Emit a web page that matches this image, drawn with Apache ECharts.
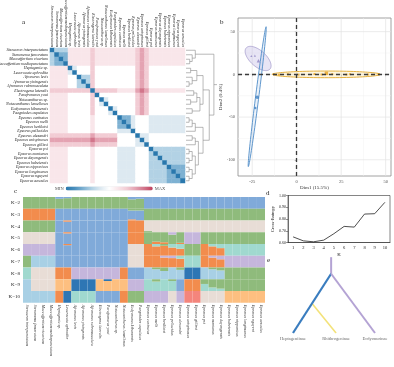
<!DOCTYPE html>
<html><head><meta charset="utf-8">
<script src="https://cdn.jsdelivr.net/npm/echarts@6/dist/echarts.min.js"></script>
<style>html,body{margin:0;padding:0;background:#fff}#c{width:394px;height:367px}</style>
</head><body><div id="c"></div>
<script>
// ---------- DATA ----------
const species = ["Stenacron interpunctatum","Stenonema femoratum","Maccaffertium vicarium","Maccaffertium mediopunctatum","Heptagenia sp.","Leucrocuta aphrodite","Afronurus levis","Afronurus yixingensis","Afronurus rubromaculata","Electrogena lateralis","Parafronurus youi","Notacanthurus sp.","Notacanthurus lamellosus","Ecdyonurus kibunensis","Paegniodes cupulatus","Epeorus carinatus","Epeorus melli","Epeorus herklotsi","Epeorus pellucidus","Epeorus alexandri","Epeorus unispinosus","Epeorus gilliesi","Epeorus psi","Epeorus montanus","Epeorus dayongensis","Epeorus hubeiensis","Epeorus nipponicus","Epeorus longimanus","Epeorus nguyeni","Epeorus aesculus"];
// heatmap matrix, 0 = MIN (blue) ... 5 = white ... 10 = MAX (red)
const heatRows = [
"033366666766666666678766666666",
"302266666766666666678766666666",
"320266666766666666678766666666",
"322066666766666666678766666666",
"666604555755555555578755555555",
"666640555755555555578755555555",
"666655033755555555578755555555",
"666655303755555555578755555555",
"666655330755555555578755555555",
"777777777077777666689866666666",
"666655555705555555578755555555",
"666655555750455555578755555555",
"666655555754055555578755555555",
"666655555755504555578755555555",
"666655555755540555578755555555",
"666655555655555022455544444444",
"666655555655555202455544444444",
"666655555655555220455544444444",
"666655555655555444055544444444",
"777777777877777555504455555555",
"888888888988888555540455555555",
"777777777877777555544055555555",
"666655555655555444455503333333",
"666655555655555444455530333333",
"666655555655555444455533033333",
"666655555655555444455533303333",
"666655555655555444455533330222",
"666655555655555444455533332022",
"666655555655555444455533332202",
"666655555655555444455533332220"];
// dendrogram merges: [childA, childB, height]; leaves 0..29, internal nodes 30+
const dendroMerges = [[2,3,1.2],[1,30,2],[0,31,3],[4,5,1.5],[7,8,1],[6,34,2],[33,35,3.5],[9,10,2.5],[11,12,1.5],[37,38,3.5],[13,14,2],[39,40,4.5],[36,41,5.5],[15,16,1],[43,17,2],[44,18,3],[19,20,2],[46,21,3],[22,23,1],[24,25,1],[48,49,2],[26,27,1],[28,29,1],[51,52,2],[50,53,3],[47,54,4],[45,55,5.5],[42,56,7.5],[32,57,9]];
// PCA
const pcaXTicks = [-25,0,25,50];
const pcaYTicks = [-100,-50,0,50];
const pcaXMinor = [-12.5,12.5,37.5];
const pcaYMinor = [-75,-25,25];
const pcaHept = [[-22.2,-26.7],[-23.3,-39.5]];
const pcaEcdy = [[-25.5,21.5],[-23.5,22],[-21.5,16]];
const pcaRhith = [[-13,0.3],[-10,-0.4],[-5,0.2],[1,-0.3],[10,0.4],[14,-0.2],[16.7,1.2],[20,0.3],[28,-0.3],[30,0.2],[40,-0.2],[46,0.1]];
// ellipse: [cx, cy, ax, ay, bx, by]
const ellHept = [-22.2,-26.1,5,81.9,0.9,-0.22];
const ellEcdy = [-21.7,18.6,6.67,-12.4,-2.95,-6.98];
const ellRhith = [16.7,0,30.3,0,0,3.9];
// admixture (dominant cluster letter, or "letter fraction" mixes)
const kNames = ["K=2","K=3","K=4","K=5","K=6","K=7","K=8","K=9","K=10"];
const kOrders = ["GB","OBG","GBOE","EBOGL","LBEOTG","GSBEOTL","TEOLBSDG","SEPDLTBOG","SODTBGLERP"];
const k2 = ["G","G","G","G","G.85 B.15","G.9 B.1","G","G","G","G","G","G","G","G.8 B.2","G.85 B.15","B","B","B","B","B","B","B","B","B","B","B","B","B","B","B"];
const k3 = ["O","O","O","O","B","B","B","B","B","B","B","B","B","B.75 O.1 G.15","B.85 G.15","G","G","G","G","G","G","G","G","G","G","G","G","G","G","G"];
const k4 = ["G","G","G","G","B","B.9 O.1","B","B","B","B","B","B","B","O","O","E.9 G.1","E","E","E","E","E","E","E","E","E","E","E","E","E","E"];
const k5 = ["E","E","E","E","B","B.9 O.1","B","B","B","B","B","B","B","O","O","G","G.8 O.2","G.85 O.15","G.8 L.2","G.9 O.1","L","L","G","G","G","G","G","G","G","G"];
const k6 = ["L","L","L","L","B","B.9 O.1","B","B","B","B","B","B","B","E","E","O","O.8 T.2","O.85 G.15","O.7 T.3","O.6 T.4","G","G","O","O.8 T.2","O.65 T.35","T","T","T","T","T"];
const k7 = ["G","S","S","S","B","B","B","B","B","B","B","B","B","E","E","O","O","O.85 L.15","O.8 L.2","O.75 T.25","T","T","O","O.85 L.15","O.7 L.3","L","L","L","L","L"];
const k8 = ["T","E","E","E","O","O","L","L","L","L","L","L","O","B","B","S","S.85 G.15","S.7 G.3","S","S.8 G.2","D","D","S","S.85 G.15","S.75 G.25","G","G","G","G","G"];
const k9 = ["S","E","E","E","P","P","D","D","D","P","P.85 D.15","P","P","L","L","T","T.8 G.2","T","T.85 G.15","B","O","O","T.6 G.4","G.7 T.3","G.8 T.2","G","G","G","G","G"];
const k10 = ["S","S","S","S","O","D","T","T","T","B","B","B","O","G","G","L","L","L","E","L","R","R","E","E","E","P","P","P","P","P"];
// cross-entropy
const ceK = ["1","2","3","4","5","6","7","8","9","10"];
const ceVal = [0.648,0.614,0.606,0.620,0.675,0.737,0.731,0.842,0.845,0.942];
// subfamily tree
const eNames = ["top","root","n1","Heptageniinae","Rhithrogeninae","Ecdyonurinae"];
const ePos = [0.93,0.93,0.465,0,1.05,2];
const eDepth = [-0.28,0,0.5,1,1,1];
const eBranches = [["top","root"],["root","Heptageniinae"],["n1","Rhithrogeninae"],["root","Ecdyonurinae"]];

// ---------- STYLE ----------
const FONT = "'Liberation Serif','DejaVu Serif',serif";
const pal = {G:'#8fbb7c',B:'#80aad9',O:'#f28c4d',E:'#e8ddd6',L:'#c5b6dc',T:'#a0d9cf',S:'#a8d0e5',D:'#2e76b4',P:'#fdbf80',R:'#f4857c'};
const heatColors = ['#2a78ad','#4a8fbe','#7eb1d2','#b3d2e5','#dde9f1','#ffffff','#f9e6ea','#f2ccd4','#e4a3b2','#d2768b','#c2405c'];
const branchStyle = {"top|root":['#b4a3d4',2],"root|Heptageniinae":['#3a7dbf',2.2],"n1|Rhithrogeninae":['#f3e27a',1.6],"root|Ecdyonurinae":['#b4a3d4',2]};

const grids=[], xAxes=[], yAxes=[], series=[];
function addGrid(g, xa, ya){ g.outerBoundsMode='none'; g.containLabel=false; grids.push(g); const i=grids.length-1; xa.gridIndex=i; ya.gridIndex=i; xAxes.push(xa); yAxes.push(ya); return i; }
const hidden = {show:false};

// ----- a: heatmap -----
const hm = addGrid({left:50, top:48, width:135, height:135},
  {type:'category', data:species, position:'top', axisLine:hidden, axisTick:hidden, splitLine:hidden,
   axisLabel:{interval:0, rotate:90, fontSize:4, fontStyle:'italic', fontFamily:FONT, color:'#222', margin:1}},
  {type:'category', data:species, inverse:true, axisLine:hidden, axisTick:hidden, splitLine:hidden,
   axisLabel:{interval:0, fontSize:4, fontStyle:'italic', fontFamily:FONT, color:'#222', margin:2}});
const hmData=[];
heatRows.forEach((r,i)=>{ for(let j=0;j<r.length;j++) hmData.push([j,i,+r[j]]); });
series.push({type:'heatmap', xAxisIndex:hm, yAxisIndex:hm, data:hmData, itemStyle:{borderWidth:0}});

// dendrogram
const dg = addGrid({left:186, top:48, width:31, height:135},
  {type:'value', min:0, max:10, show:false}, {type:'value', min:0, max:30, inverse:true, show:false});
const nodeY = species.map((s,i)=>i+0.5), nodeH = species.map(()=>0);
const dLines = [];
dendroMerges.forEach(m=>{
  const [a,b,h]=m; const ya=nodeY[a], yb=nodeY[b];
  dLines.push({coords:[[nodeH[a],ya],[h,ya],[h,yb],[nodeH[b],yb]]});
  nodeY.push((ya+yb)/2); nodeH.push(h);
});
const rootI = nodeY.length-1;
dLines.push({coords:[[nodeH[rootI],nodeY[rootI]],[10,nodeY[rootI]]]});
series.push({type:'lines', coordinateSystem:'cartesian2d', xAxisIndex:dg, yAxisIndex:dg, polyline:true, data:dLines, lineStyle:{color:'#8a8a8a', width:0.6, opacity:1}, silent:true});

// ----- b: PCA -----
const pc = addGrid({left:238, top:18, width:153, height:158, show:true, borderColor:'#8c8c8c', borderWidth:0.8},
  {type:'value', min:-33, max:53, splitLine:hidden, axisLine:hidden,
   axisTick:{show:true, length:2, customValues:pcaXTicks, lineStyle:{color:'#666', width:0.5}},
   axisLabel:{customValues:pcaXTicks, fontSize:4.5, color:'#555', fontFamily:FONT, margin:3},
   name:'Dim1 (15.5%)', nameLocation:'middle', nameGap:9, nameTextStyle:{fontSize:5, fontFamily:FONT, color:'#333'}},
  {type:'value', min:-119, max:66, splitLine:hidden, axisLine:hidden,
   axisTick:{show:true, length:2, customValues:pcaYTicks, lineStyle:{color:'#666', width:0.5}},
   axisLabel:{customValues:pcaYTicks, fontSize:4.5, color:'#555', fontFamily:FONT, margin:3},
   name:'Dim2 (9.4%)', nameLocation:'middle', nameGap:12, nameTextStyle:{fontSize:5, fontFamily:FONT, color:'#333'}});
// background grid lines as custom series
series.push({type:'custom', xAxisIndex:pc, yAxisIndex:pc, data:[0], z:1, silent:true,
  renderItem:(p,api)=>{
    const ch=[];
    const addV=(v,c,w)=>{const a=api.coord([v,-119]), b=api.coord([v,66]); ch.push({type:'line', shape:{x1:a[0],y1:a[1],x2:b[0],y2:b[1]}, style:{stroke:c, lineWidth:w}});};
    const addH=(v,c,w)=>{const a=api.coord([-33,v]), b=api.coord([53,v]); ch.push({type:'line', shape:{x1:a[0],y1:a[1],x2:b[0],y2:b[1]}, style:{stroke:c, lineWidth:w}});};
    pcaXMinor.forEach(v=>addV(v,'#f0f0f0',0.5)); pcaYMinor.forEach(v=>addH(v,'#f0f0f0',0.5));
    pcaXTicks.forEach(v=>addV(v,'#e2e2e2',0.7)); pcaYTicks.forEach(v=>addH(v,'#e2e2e2',0.7));
    return {type:'group', children:ch};
  }});
function ellipsePts(e){ const pts=[]; for(let k=0;k<=90;k++){ const t=k/90*2*Math.PI; pts.push([e[0]+Math.cos(t)*e[2]+Math.sin(t)*e[4], e[1]+Math.cos(t)*e[3]+Math.sin(t)*e[5]]);} return pts; }
function ellSeries(e, fill, stroke, lw){
  const pts = ellipsePts(e);
  return {type:'custom', xAxisIndex:pc, yAxisIndex:pc, data:[0], z:2, silent:true,
    renderItem:(p,api)=>({type:'polygon', shape:{points:pts.map(q=>api.coord(q))}, style:{fill:fill, stroke:stroke, lineWidth:lw}})};
}
series.push(ellSeries(ellRhith,'rgba(245,210,110,0.22)','#e4aa2c',0.9));
series.push(ellSeries(ellEcdy,'rgba(190,180,225,0.35)','#9d93c9',0.7));
series.push(ellSeries(ellHept,'rgba(120,170,220,0.15)','#4f8cc7',0.9));
series.push({type:'scatter', xAxisIndex:pc, yAxisIndex:pc, data:pcaRhith, symbol:'rect', symbolSize:(v,p)=>p.dataIndex===6?3.5:2, itemStyle:{color:'#e6a11e'}, z:3});
series.push({type:'scatter', xAxisIndex:pc, yAxisIndex:pc, data:pcaEcdy, symbol:'triangle', symbolSize:(v,p)=>p.dataIndex===2?3.5:2.2, itemStyle:{color:'#8f84c2'}, z:3});
series.push({type:'scatter', xAxisIndex:pc, yAxisIndex:pc, data:pcaHept, symbol:'circle', symbolSize:(v,p)=>p.dataIndex===0?3.5:2.5, itemStyle:{color:'#3f7fc0'}, z:3});
series.push({type:'scatter', xAxisIndex:pc, yAxisIndex:pc, data:pcaHept, symbolSize:0, z:4, silent:true,
  markLine:{silent:true, symbol:['none','none'], label:{show:false}, animation:false,
   lineStyle:{color:'#3a3a3a', width:1.3, type:[4,3]}, data:[{xAxis:0},{yAxis:0}]}});

// ----- c: admixture -----
const kArrays = [k2,k3,k4,k5,k6,k7,k8,k9,k10];
const rowH = 11.75;
kArrays.forEach((arr, idx)=>{
  const last = idx===kArrays.length-1;
  const gi = addGrid({left:23, top:197+idx*rowH, width:242, height:rowH},
    {type:'category', data:species, boundaryGap:true, axisLine:hidden, axisTick:hidden, splitLine:hidden,
     axisLabel: last ? {interval:0, rotate:-90, fontSize:4, fontStyle:'italic', fontFamily:FONT, color:'#333', margin:2} : {show:false}},
    {type:'value', min:0, max:1, axisLine:hidden, axisTick:hidden, splitLine:hidden, axisLabel:{show:false},
     name:kNames[idx], nameLocation:'middle', nameRotate:0, nameGap:3, nameTextStyle:{fontSize:5, fontFamily:FONT, color:'#222', align:'right'}});
  const parsed = arr.map(s=>{ const o={}; s.split(' ').forEach(tok=>{ o[tok[0]] = tok.length>1 ? parseFloat(tok.slice(1)) : 1; }); return o; });
  kOrders[idx].split('').forEach(letter=>{
    series.push({type:'bar', xAxisIndex:gi, yAxisIndex:gi, stack:'k'+idx, barCategoryGap:'0%', barGap:'0%',
      data: parsed.map(o=>o[letter]||0), itemStyle:{color:pal[letter]}, silent:true});
  });
});

// ----- d: cross-entropy -----
const cg = addGrid({left:288, top:195.5, width:102, height:47, show:true, borderColor:'#333', borderWidth:0.6},
  {type:'category', data:ceK, boundaryGap:true, axisLine:{lineStyle:{color:'#333',width:0.6}}, axisTick:{alignWithLabel:true, length:2, lineStyle:{color:'#333',width:0.5}},
   axisLabel:{fontSize:4.5, fontFamily:FONT, color:'#222', margin:3}, splitLine:hidden,
   name:'K', nameLocation:'middle', nameGap:10, nameTextStyle:{fontSize:5, fontFamily:FONT, color:'#222'}},
  {type:'value', min:0.6, max:1.0, interval:0.1, axisLine:{show:true, lineStyle:{color:'#333',width:0.6}}, axisTick:{show:true, length:2, lineStyle:{color:'#333',width:0.5}},
   axisLabel:{fontSize:4, fontFamily:FONT, color:'#222', margin:2, formatter:v=>v.toFixed(2)}, splitLine:hidden,
   name:'Cross-Entropy', nameLocation:'middle', nameGap:13, nameTextStyle:{fontSize:4.5, fontFamily:FONT, color:'#222'}});
series.push({type:'line', xAxisIndex:cg, yAxisIndex:cg, data:ceVal, symbol:'none', lineStyle:{color:'#222', width:0.8}});

// ----- e: subfamily tree -----
const eg = addGrid({left:293, top:256, width:82, height:77},
  {type:'value', min:0, max:2, show:false}, {type:'value', min:-0.3, max:1, inverse:true, show:false});
const eIdx = n=>eNames.indexOf(n);
eBranches.forEach(b=>{
  const st = branchStyle[b[0]+'|'+b[1]];
  series.push({type:'line', xAxisIndex:eg, yAxisIndex:eg, data:b.map(n=>[ePos[eIdx(n)], eDepth[eIdx(n)]]),
    symbol:'none', lineStyle:{color:st[0], width:st[1]}, z:b[0]==='n1'?2:3, silent:true});
});
series.push({type:'scatter', xAxisIndex:eg, yAxisIndex:eg, symbolSize:0,
  data:eNames.slice(3).map(n=>({name:n, value:[ePos[eIdx(n)], eDepth[eIdx(n)]]})),
  label:{show:true, position:'bottom', distance:3, formatter:'{b}', fontSize:4.5, fontFamily:FONT, color:'#444'}});

// ----- panel letters -----
const letter = (t,x,y)=>({type:'text', left:x, top:y, style:{text:t, font:'7px '+FONT, fill:'#222'}});

const chart = echarts.init(document.getElementById('c'));
chart.setOption({
  animation:false,
  backgroundColor:'#fff',
  grid:grids, xAxis:xAxes, yAxis:yAxes, series:series,
  visualMap:{type:'continuous', min:0, max:10, seriesIndex:0, orient:'horizontal', left:55, top:186, padding:0,
    itemWidth:4, itemHeight:87, text:['MAX','MIN'], textGap:2, calculable:false, showLabel:true,
    textStyle:{fontSize:4.5, fontFamily:FONT, color:'#555'},
    inRange:{color:heatColors}},
  graphic:[letter('a',22,19),letter('b',220,19),letter('c',14,188),letter('d',266,190),letter('e',267,257)]
});
</script></body></html>
